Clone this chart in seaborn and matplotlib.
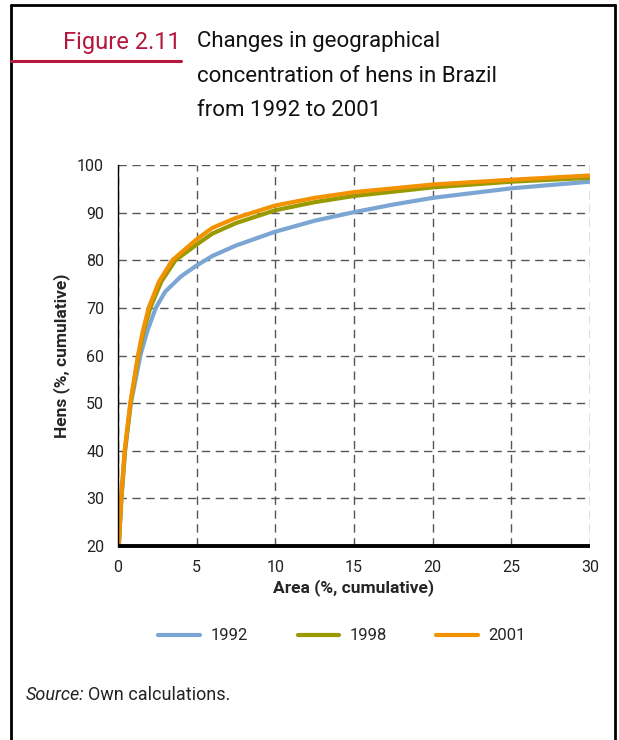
import matplotlib
matplotlib.use("Agg")
import matplotlib.pyplot as plt
import seaborn as sns
import pandas as pd
from matplotlib.lines import Line2D

# ---- data ----
x_1992 = [0.05, 0.22, 0.45, 0.82, 1.42, 1.85, 2.4, 3.0, 4.0, 5, 6, 7.5, 10, 12.5, 15, 17.5, 20, 25, 30]
y_1992 = [20, 30, 40, 50, 60, 65, 70, 73.4, 76.6, 78.9, 80.9, 83.1, 86.0, 88.3, 90.1, 91.7, 93.1, 95.1, 96.5]
x_1998 = [0.05, 0.21, 0.44, 0.8, 1.3, 1.62, 2.05, 2.75, 3.65, 5, 6, 7.5, 10, 12.5, 15, 20, 25, 30]
y_1998 = [20, 30, 40, 50, 60, 65, 70, 75.5, 80, 83.3, 85.6, 87.8, 90.5, 92.2, 93.5, 95.3, 96.5, 97.3]
x_2001 = [0.05, 0.2, 0.42, 0.78, 1.27, 1.57, 1.95, 2.6, 3.45, 5, 6, 7.5, 10, 12.5, 15, 20, 25, 30]
y_2001 = [20, 30, 40, 50, 60, 65, 70, 75.5, 80, 84.4, 86.8, 88.9, 91.5, 93.1, 94.3, 95.9, 96.9, 97.8]
years = ["1992", "1998", "2001"]
colors = ["#7BA6D4", "#999900", "#F39200"]

x_ticks = [0, 5, 10, 15, 20, 25, 30]
y_ticks = [20, 30, 40, 50, 60, 70, 80, 90, 100]

df = pd.concat([
    pd.DataFrame({"area": x_1992, "hens": y_1992, "year": "1992"}),
    pd.DataFrame({"area": x_1998, "hens": y_1998, "year": "1998"}),
    pd.DataFrame({"area": x_2001, "hens": y_2001, "year": "2001"}),
])

sns.set_style("white")
plt.rcParams["font.family"] = ["Roboto", "DejaVu Sans"]

W, H = 619, 740
fig = plt.figure(figsize=(W/100, H/100), dpi=100)
ax = fig.add_axes([118/W, 1-546/H, (590-118)/W, (546-165)/H])

sns.lineplot(data=df, x="area", y="hens", hue="year", hue_order=years,
             palette=colors, linewidth=3.0, sort=False, legend=False, ax=ax,
             solid_capstyle="butt")

ax.set_xlim(0, 30)
ax.set_ylim(20, 100)
ax.set_xticks(x_ticks)
ax.set_yticks(y_ticks)
ax.set_xticklabels([str(v) for v in x_ticks], fontsize=11.5, color="#222222")
ax.set_yticklabels([str(v) for v in y_ticks], fontsize=11.5, color="#222222")
ax.tick_params(axis="both", direction="out", length=6, width=0.9, color="black", pad=4)

ax.grid(True, which="major", linestyle=(0, (6, 4)), color="#555555", linewidth=1.0)
ax.set_axisbelow(True)
for s in ["top", "right"]:
    ax.spines[s].set_visible(False)
ax.spines["left"].set_linewidth(1.0)
ax.spines["left"].set_color("black")
ax.spines["bottom"].set_linewidth(2.8)
ax.spines["bottom"].set_color("black")
ax.spines["bottom"].set_capstyle("butt")

ax.set_xlabel("Area (%, cumulative)", fontsize=12.5, fontweight="bold", labelpad=3)
ax.set_ylabel("Hens (%, cumulative)", fontsize=12.5, fontweight="bold", labelpad=5)

# legend
handles = [Line2D([0], [0], color=c, linewidth=3) for c in colors]
fig.legend(handles, years, loc="center", bbox_to_anchor=(342/W, 1-636/H),
           ncol=3, frameon=False, fontsize=12, handlelength=2.5,
           columnspacing=3.0, handletextpad=0.6)

# frame around the figure (open at bottom)
frame_kw = dict(color="black", linewidth=2.0, transform=fig.transFigure)
fig.add_artist(Line2D([11/W, 11/W], [0, 1-5/H], **frame_kw))
fig.add_artist(Line2D([11/W, 615/W], [1-5/H, 1-5/H], **frame_kw))
fig.add_artist(Line2D([615/W, 615/W], [0, 1-5/H], **frame_kw))

# header
fig.text(181/W, 1-42/H, "Figure 2.11", color="#B5173F", fontsize=17,
         ha="right", va="center")
fig.add_artist(Line2D([11/W, 181/W], [1-61/H, 1-61/H], color="#B5173F",
                      linewidth=2.2, transform=fig.transFigure))
for i, line in enumerate(["Changes in geographical",
                          "concentration of hens in Brazil",
                          "from 1992 to 2001"]):
    fig.text(197/W, 1-(42 + 34*i)/H, line, fontsize=16, ha="left", va="center",
             color="#111111")

# source
fig.text(26/W, 1-695/H, "Source:", fontsize=13, style="italic", ha="left", va="center", color="#222222")
fig.text(88/W, 1-695/H, "Own calculations.", fontsize=13, ha="left", va="center", color="#222222")

fig.savefig("out.png", dpi=100)
